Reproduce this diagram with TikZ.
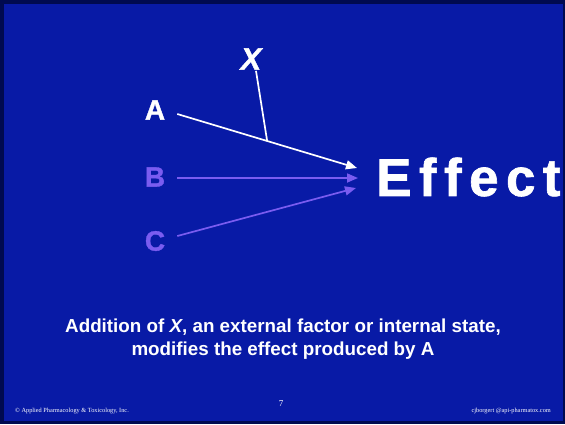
\documentclass[tikz,border=0pt]{standalone}
\usepackage{fontspec}
\setmainfont{Liberation Sans}
\newfontfamily\footfont{Liberation Serif}
\newfontfamily\heavyfont[FakeBold=1.2]{Liberation Sans Bold}
\usetikzlibrary{arrows.meta}
\definecolor{slidebg}{RGB}{8,26,166}
\definecolor{frameblue}{RGB}{0,10,80}
\definecolor{lilac}{RGB}{122,92,240}
\tikzset{
  letter/.style={inner sep=0pt, font=\heavyfont\fontsize{28}{30}\selectfont},
  conn/.style={line width=1.7pt, -{Triangle[length=11pt,width=9pt]}},
  foot/.style={inner sep=0pt, text=white, font=\footfont\fontsize{6.3}{7}\selectfont},
  caption/.style={inner sep=0pt, text=white, font=\fontsize{18.8}{22}\selectfont\bfseries}
}
\begin{document}
\begin{tikzpicture}[x=1pt,y=-1pt]
\useasboundingbox (0,0) rectangle (565,424);
\fill[frameblue] (0,0) rectangle (565,424);
\fill[slidebg] (4,4) rectangle (563,421);

\node[letter, text=white] (A) at (155,110) {A};
\node[letter, text=lilac] (B) at (155,177) {B};
\node[letter, text=lilac] (C) at (155,241) {C};
\node[inner sep=0pt, text=white, font=\heavyfont\fontsize{31}{33}\selectfont\itshape] (X) at (251,59) {X};
\node[anchor=west, inner sep=0pt, text=white, font=\heavyfont\fontsize{53}{55}\selectfont\addfontfeature{LetterSpace=14}] (E) at (376,177) {Effect};

\coordinate (ta) at (357,168);
\coordinate (tb) at (358,178);
\coordinate (tc) at (356,188);

\draw[conn, white] ([xshift=12pt,yshift=-4pt]A.east) -- (ta) coordinate[pos=0.5] (m);
\draw[conn, lilac] ([xshift=12pt,yshift=-1pt]B.east) -- (tb);
\draw[conn, lilac] ([xshift=12pt,yshift=5pt]C.east) -- (tc);
\draw[white, line width=1.7pt] ([xshift=5pt,yshift=-1pt]X.south) -- (m);

\node[caption] (cap1) at (283,327) {Addition of \textit{X}, an external factor or internal state,};
\node[caption] (cap2) at (283,351) {modifies the effect produced by A};

\node[foot, anchor=west] (fl) at (15,411) {© Applied Pharmacology \& Toxicology, Inc.};
\node[foot, anchor=east] (fr) at (551,411) {cjborgert @api-pharmatox.com};
\node[inner sep=0pt, text=white, font=\footfont\fontsize{9}{10}\selectfont] (pg) at (281,404) {7};
\end{tikzpicture}
\end{document}
